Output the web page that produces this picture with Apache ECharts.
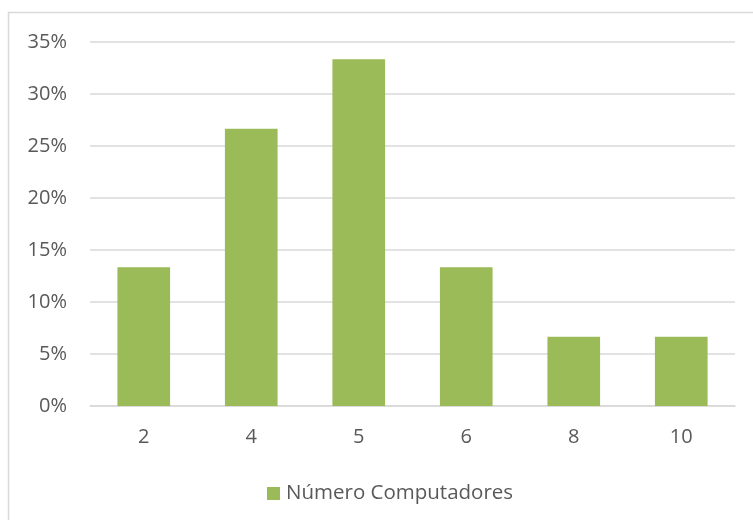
<!DOCTYPE html>
<html>
<head>
<meta charset="utf-8">
<script src="https://cdn.jsdelivr.net/npm/echarts@6/dist/echarts.min.js"></script>
<style>
  html, body { margin: 0; padding: 0; background: #fff; }
  #chart { width: 753px; height: 520px; }
</style>
</head>
<body>
<div id="chart"></div>
<script>
// Number of computers per household and the share of households for each
const categories = ['2', '4', '5', '6', '8', '10'];
const seriesName = 'Número Computadores';
const shares = [0.1333, 0.2667, 0.3333, 0.1333, 0.0667, 0.0667];
const yTicks = [0, 0.05, 0.10, 0.15, 0.20, 0.25, 0.30, 0.35];

const textColor = '#595959';
const fontFamily = '"Open Sans", "Noto Sans", sans-serif';

const chart = echarts.init(document.getElementById('chart'), null, { renderer: 'canvas' });
chart.setOption({
  animation: false,
  backgroundColor: '#fff',
  textStyle: { fontFamily: fontFamily, color: textColor },
  graphic: [{
    type: 'rect',
    shape: { x: 8.5, y: 12.5, width: 800, height: 600 },
    style: { fill: 'none', stroke: '#d9d9d9', lineWidth: 1.5 },
    silent: true, z: -1
  }],
  grid: { left: 90, right: 18, top: 42, bottom: 114, containLabel: false },
  legend: {
    data: [seriesName],
    left: 262,
    top: 478,
    itemWidth: 13, itemHeight: 13,
    itemGap: 7,
    icon: 'rect',
    textStyle: { color: textColor, fontSize: 20.5, fontFamily: fontFamily, padding: [0, 0, 0, 1] }
  },
  xAxis: {
    type: 'category',
    data: categories,
    axisLine: { show: true, lineStyle: { color: '#d9d9d9', width: 1.5 } },
    axisTick: { show: false },
    axisLabel: { color: textColor, fontSize: 20, margin: 21 }
  },
  yAxis: {
    type: 'value',
    min: yTicks[0],
    max: yTicks[yTicks.length - 1],
    interval: 0.05,
    axisLine: { show: false },
    axisTick: { show: false },
    axisLabel: {
      color: textColor, fontSize: 20, margin: 23,
      formatter: v => Math.round(v * 100) + '%'
    },
    splitLine: { lineStyle: { color: '#d9d9d9', width: 1.5 } }
  },
  series: [{
    name: seriesName,
    type: 'bar',
    data: shares,
    barWidth: '49%',
    itemStyle: { color: '#9bbb59' }
  }]
});
</script>
</body>
</html>
